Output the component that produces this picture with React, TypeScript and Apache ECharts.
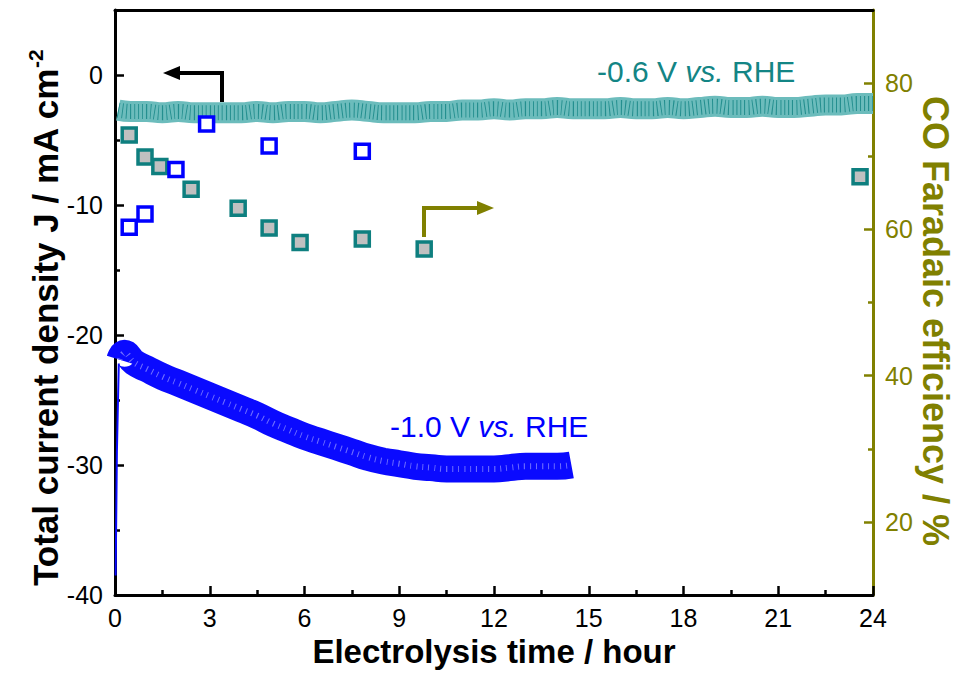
import React, { useEffect, useRef } from "react";
import * as echarts from "echarts";

// Time (h) / current density J (mA cm^-2), -0.6 V vs. RHE (noisy band, centre read)
const tealTime = [0.1, 0.5, 1, 1.5, 2, 2.5, 3, 3.5, 4, 4.5, 5, 5.5, 6, 6.5, 7, 7.5, 8, 8.5, 9, 9.5, 10, 10.5, 11, 11.5, 12, 12.5, 13, 13.5, 14, 14.5, 15, 15.5, 16, 16.5, 17, 17.5, 18, 18.5, 19, 19.5, 20, 20.5, 21, 21.5, 22, 22.5, 23, 23.5, 24];
const tealJ = [-2.7, -2.8, -2.8, -2.9, -2.8, -2.9, -2.9, -2.9, -2.9, -2.8, -2.9, -2.8, -2.8, -2.9, -2.8, -2.7, -2.8, -2.9, -2.9, -2.9, -2.8, -2.8, -2.7, -2.7, -2.6, -2.7, -2.6, -2.6, -2.5, -2.6, -2.6, -2.6, -2.5, -2.6, -2.6, -2.5, -2.6, -2.5, -2.4, -2.5, -2.5, -2.4, -2.5, -2.5, -2.4, -2.3, -2.3, -2.2, -2.2];

// -1.0 V vs. RHE
const blueTime = [0.15, 0.3, 0.6, 1, 1.5, 2, 2.5, 3, 3.5, 4, 4.5, 5, 5.5, 6, 6.5, 7, 7.5, 8, 8.5, 9, 9.5, 10, 10.5, 11, 11.5, 12, 12.5, 13, 13.5, 14, 14.45];
const blueJ = [-21.9, -21.4, -22.1, -22.6, -23.2, -23.7, -24.2, -24.7, -25.2, -25.7, -26.2, -26.8, -27.3, -27.8, -28.2, -28.6, -29.0, -29.4, -29.7, -29.9, -30.1, -30.2, -30.3, -30.3, -30.3, -30.3, -30.2, -30.1, -30.1, -30.1, -30.0];
const blueStartTime = [0.02, 0.06, 0.12];
const blueStartJ = [-38.5, -29, -22.2];

// CO Faradaic efficiency (%)
const feTealTime = [0.45, 0.95, 1.42, 2.41, 3.9, 4.88, 5.86, 7.83, 9.79, 23.59];
const feTeal = [72.9, 69.9, 68.6, 65.5, 62.9, 60.2, 58.2, 58.7, 57.3, 67.2];
const feBlueTime = [0.45, 0.95, 1.93, 2.9, 4.88, 7.83];
const feBlue = [60.3, 62.1, 68.2, 74.4, 71.4, 70.7];

const leftLabels = [-40, -30, -20, -10, 0];
const leftMinor = [-35, -25, -15, -5];
const rightLabels = [20, 40, 60, 80];
const rightMinor = [30, 50, 70];

const zip = (a: number[], b: number[]) => a.map((v, i) => [v, b[i]]);

const FONT = "Liberation Sans, Arial, sans-serif";
const OLIVE = "#808000";
const TEAL = "#138585";

export default function App() {
  const ref = useRef<HTMLDivElement>(null);
  useEffect(() => {
    if (!ref.current) return;
    const chart = echarts.init(ref.current, null, { renderer: "svg" });
    const tickLabel = { fontFamily: FONT, fontSize: 25, color: "#000" };
    chart.setOption({
      animation: false,
      backgroundColor: "#fff",
      grid: { left: 115, right: 99, top: 10, bottom: 76 },
      xAxis: [
        {
          type: "value",
          min: 0,
          max: 24,
          interval: 3,
          position: "bottom",
          axisLine: { onZero: false, lineStyle: { color: "#000", width: 3 } },
          axisTick: { inside: true, length: 9, lineStyle: { color: "#000", width: 2.5 } },
          minorTick: { show: true, splitNumber: 2, length: 5, lineStyle: { color: "#000", width: 2.5 } },
          splitLine: { show: false },
          minorSplitLine: { show: false },
          axisLabel: { ...tickLabel, margin: 10 },
          name: "Electrolysis time / hour",
          nameLocation: "middle",
          nameGap: 40,
          nameTextStyle: { fontFamily: FONT, fontSize: 33, fontWeight: "bold", color: "#000" },
        },
        {
          type: "value",
          min: 0,
          max: 24,
          interval: 3,
          position: "top",
          axisLine: { onZero: false, lineStyle: { color: "#000", width: 3 } },
          axisTick: { show: false },
          axisLabel: { show: false },
          splitLine: { show: false },
        },
      ],
      yAxis: [
        {
          type: "value",
          min: -40,
          max: 5,
          interval: 10,
          position: "left",
          axisLine: { show: true, onZero: false, lineStyle: { color: "#000", width: 3 } },
          axisTick: { show: true, inside: true, length: 9, customValues: leftLabels, lineStyle: { color: "#000", width: 2.5 } },
          axisLabel: { ...tickLabel, margin: 12, customValues: leftLabels },
          splitLine: { show: false },
        },
        {
          type: "value",
          min: -40,
          max: 5,
          interval: 10,
          position: "left",
          axisLine: { show: false, onZero: false },
          axisTick: { show: true, inside: true, length: 5, customValues: leftMinor, lineStyle: { color: "#000", width: 2.5 } },
          axisLabel: { show: false },
          splitLine: { show: false },
        },
        {
          type: "value",
          min: 10,
          max: 90,
          interval: 10,
          position: "right",
          axisLine: { show: true, onZero: false, lineStyle: { color: OLIVE, width: 3 } },
          axisTick: { show: true, inside: true, length: 9, customValues: rightLabels, lineStyle: { color: OLIVE, width: 2.5 } },
          axisLabel: { fontFamily: FONT, fontSize: 25, color: OLIVE, margin: 12, customValues: rightLabels },
          splitLine: { show: false },
        },
        {
          type: "value",
          min: 10,
          max: 90,
          interval: 10,
          position: "right",
          axisLine: { show: false, onZero: false },
          axisTick: { show: true, inside: true, length: 5, customValues: rightMinor, lineStyle: { color: OLIVE, width: 2.5 } },
          axisLabel: { show: false },
          splitLine: { show: false },
        },
      ],
      series: [
        {
          type: "line",
          name: "-0.6 V J",
          xAxisIndex: 0,
          yAxisIndex: 0,
          data: zip(tealTime, tealJ),
          symbol: "none",
          smooth: true,
          lineStyle: { color: "#6cbcbc", width: 21 },
          z: 2,
        },
        {
          type: "line",
          name: "-0.6 V J texture",
          xAxisIndex: 0,
          yAxisIndex: 0,
          data: zip(tealTime, tealJ),
          symbol: "none",
          smooth: true,
          lineStyle: { color: "#248f8f", width: 15, type: [1, 3] },
          z: 2,
        },
        {
          type: "line",
          name: "-1.0 V J",
          xAxisIndex: 0,
          yAxisIndex: 0,
          data: zip(blueTime, blueJ),
          symbol: "none",
          smooth: true,
          lineStyle: { color: "#0a0aff", width: 27 },
          z: 2,
        },
        {
          type: "line",
          name: "-1.0 V J texture",
          xAxisIndex: 0,
          yAxisIndex: 0,
          data: zip(blueTime, blueJ),
          symbol: "none",
          smooth: true,
          lineStyle: { color: "#6f6fff", width: 6, type: [1, 5] },
          z: 3,
        },
        {
          type: "line",
          name: "-1.0 V J start",
          xAxisIndex: 0,
          yAxisIndex: 0,
          data: zip(blueStartTime, blueStartJ),
          symbol: "none",
          lineStyle: { color: "#0a0aff", width: 2 },
          z: 2,
        },
        {
          type: "scatter",
          name: "FE -0.6 V",
          xAxisIndex: 0,
          yAxisIndex: 2,
          data: zip(feTealTime, feTeal),
          symbol: "rect",
          symbolSize: 14,
          itemStyle: { color: "#c0c0c0", borderColor: "#0e7f7f", borderWidth: 3.5, opacity: 1 },
          z: 5,
        },
        {
          type: "scatter",
          name: "FE -1.0 V",
          xAxisIndex: 0,
          yAxisIndex: 2,
          data: zip(feBlueTime, feBlue),
          symbol: "rect",
          symbolSize: 14,
          itemStyle: { color: "#ffffff", borderColor: "#0000ff", borderWidth: 3.5, opacity: 1 },
          z: 5,
        },
      ],
      graphic: [
        {
          type: "text",
          x: 45,
          y: 318,
          rotation: Math.PI / 2,
          style: {
            text: "{a|Total current density J / mA cm}{b|-2}",
            align: "center",
            verticalAlign: "middle",
            rich: {
              a: { font: `bold 35px ${FONT}`, fill: "#000", lineHeight: 40 },
              b: { font: `bold 21px ${FONT}`, fill: "#000", verticalAlign: "top", lineHeight: 40 },
            },
          },
          z: 10,
        },
        {
          type: "text",
          x: 935,
          y: 321,
          rotation: -Math.PI / 2,
          style: {
            text: "CO Faradaic efficiency / %",
            align: "center",
            verticalAlign: "middle",
            font: `bold 36px ${FONT}`,
            fill: OLIVE,
          },
          z: 10,
        },
        {
          type: "text",
          left: 597,
          top: 56,
          style: {
            text: "-0.6 V {i|vs.} RHE",
            fill: TEAL,
            font: `30px ${FONT}`,
            rich: { i: { fontStyle: "italic", fontSize: 30, fontFamily: FONT, fill: TEAL } },
          },
          z: 10,
        },
        {
          type: "text",
          left: 390,
          top: 411,
          style: {
            text: "-1.0 V {i|vs.} RHE",
            fill: "#0000ff",
            font: `30px ${FONT}`,
            rich: { i: { fontStyle: "italic", fontSize: 30, fontFamily: FONT, fill: "#0000ff" } },
          },
          z: 10,
        },
        {
          type: "polyline",
          shape: { points: [[222, 102], [222, 73], [178, 73]] },
          style: { stroke: "#000", lineWidth: 4, fill: null },
          z: 10,
        },
        {
          type: "polygon",
          shape: { points: [[163, 73], [180, 66], [180, 80]] },
          style: { fill: "#000" },
          z: 10,
        },
        {
          type: "polyline",
          shape: { points: [[424, 237], [424, 208], [480, 208]] },
          style: { stroke: OLIVE, lineWidth: 4, fill: null },
          z: 10,
        },
        {
          type: "polygon",
          shape: { points: [[494, 208], [477, 201], [477, 215]] },
          style: { fill: OLIVE },
          z: 10,
        },
      ],
    });
    return () => chart.dispose();
  }, []);
  return (
    <div
      ref={ref}
      style={{ position: "fixed", left: 0, top: 0, width: 972, height: 673, background: "#fff" }}
    />
  );
}
